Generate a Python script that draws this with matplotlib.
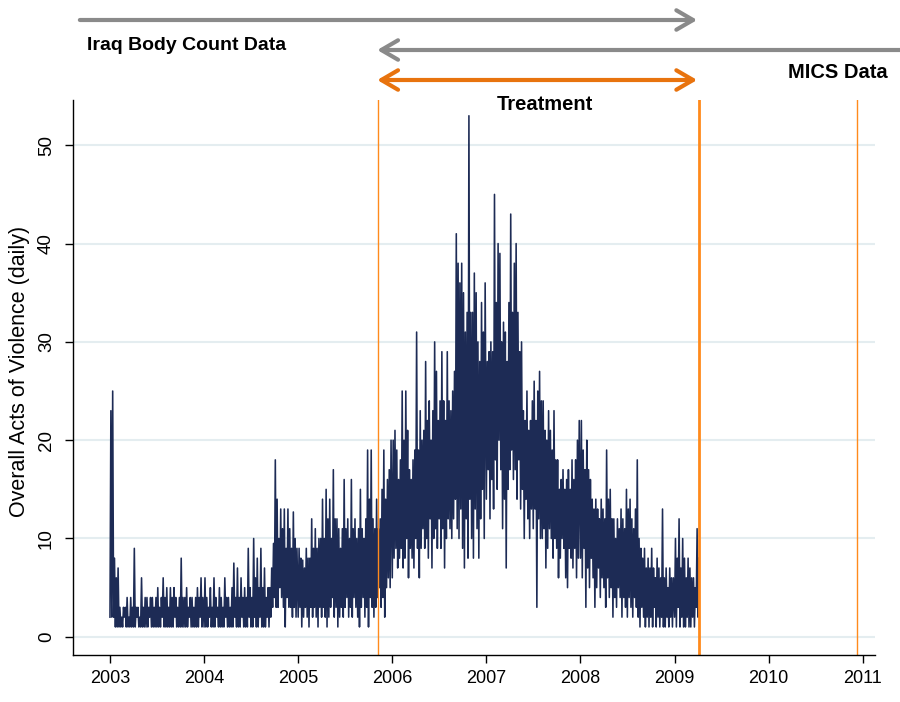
import numpy as np
import matplotlib
matplotlib.use("Agg")
from matplotlib import pyplot as plt

plt.rcParams['font.family'] = ['Liberation Sans', 'DejaVu Sans']

# weekly peaks / floors of the daily count
hi_2003 = [23, 25, 8, 6, 7, 3, 2, 3, 3, 4, 2, 4, 3, 9, 3, 3, 2, 6, 3, 4, 4, 3, 4, 4, 3, 4,
           5, 3, 4, 6, 4, 5, 3, 5, 4, 5, 4, 3, 4, 8, 4, 4, 5, 3, 4, 4, 3, 4, 5, 4, 6, 4]
lo_2003 = [2, 2, 2, 1, 1, 1, 1, 1, 2, 1, 1, 1, 1, 1, 1, 2, 1, 1, 1, 1, 1, 1, 2, 1, 1, 1,
           1, 1, 1, 2, 1, 1, 1, 1, 1, 1, 2, 1, 1, 1, 1, 1, 1, 1, 2, 1, 1, 1, 1, 1, 2, 1]
hi_2004 = [6, 4, 3, 5, 3, 6, 4, 3, 5, 4, 3, 6, 4, 4, 3, 5, 7.5, 4, 7, 4, 6, 4, 5, 4, 9, 5,
           4, 10, 6, 8, 5, 9, 5, 7, 4, 5, 5, 7, 9.5, 18, 14, 10, 13, 11, 13, 9, 13, 11, 9, 12.7, 10, 9]
lo_2004 = [1, 1, 1, 2, 1, 1, 1, 2, 1, 1, 1, 1, 2, 1, 1, 1, 1, 2, 1, 1, 1, 2, 1, 1, 1, 2,
           1, 1, 2, 1, 1, 2, 1, 1, 1, 2, 1, 2, 3, 4, 3, 3, 5, 4, 3, 1, 4, 3, 3, 2, 3, 2]
hi_2005 = [9, 8, 7.8, 7, 9, 8, 8, 12, 9, 11, 9, 10, 10, 14, 10, 15, 12, 14, 10, 17, 12, 12, 11, 9, 11, 16,
           11, 12, 10, 16, 11, 12, 10, 11, 15, 11, 10, 12, 19, 14, 19, 12, 11, 14, 11, 12, 15, 19, 14, 16, 17, 20]
lo_2005 = [2, 3, 1, 2, 3, 2, 1, 3, 2, 3, 2, 1, 3, 2, 3, 2, 1, 2, 3, 4, 2, 3, 1, 2, 3, 2,
           3, 4, 2, 3, 2, 4, 3, 2, 1, 3, 4, 2, 3, 1, 4, 3, 2, 3, 4, 5, 3, 4, 2, 5, 6, 5]
hi_2006 = [20, 21, 19, 16, 18, 25, 20, 25, 21, 17, 16, 18, 19, 31, 19, 23, 20, 21, 28, 22, 24, 20, 23, 30, 27, 22,
           24, 29, 24, 22, 29, 24, 23, 25, 27, 41, 38, 36, 38, 35, 31, 33, 53, 33, 33, 37, 35, 30, 28, 34, 31, 36]
lo_2006 = [6, 8, 9, 7, 8, 9, 7, 8, 10, 6, 9, 8, 7, 10, 9, 6, 9, 11, 9, 10, 8, 12, 7, 10, 11, 9,
           12, 9, 11, 7, 10, 12, 11, 10, 12, 14, 11, 10, 13, 9, 7, 12, 8, 14, 10, 8, 13, 11, 8, 12, 15, 10]
hi_2007 = [28, 29, 30, 29, 45, 34, 40, 39, 30, 32, 31, 28, 34, 43, 33, 38, 40, 33, 29, 30, 23, 22, 25, 21, 22, 24,
           26, 22, 25, 27, 24, 24, 21, 20, 23, 21, 19, 23, 18, 18, 15, 16, 17, 15, 16, 17, 15, 18, 16, 18, 20, 22]
lo_2007 = [14, 17, 12, 16, 13, 18, 15, 20, 17, 11, 14, 7, 15, 17, 19, 16, 17, 14, 18, 13, 15, 10, 14, 12, 10, 13,
           11, 13, 3, 12, 10, 10, 11, 7, 9, 11, 10, 8, 10, 9, 6, 8, 10, 9, 6, 5, 9, 8, 7, 9, 6, 8]
hi_2008 = [22, 19, 17, 20, 17, 16, 14, 13, 14, 13, 12, 14, 13, 12, 19, 14, 15, 12, 12, 10, 12, 11, 13, 12, 11, 15,
           13, 14, 12, 11, 13, 18, 10, 9, 8, 9, 7, 8, 7, 9, 7, 6, 8, 7, 6, 13, 6, 7, 5, 7, 6, 6]
lo_2008 = [8, 6, 9, 3, 7, 5, 8, 6, 3, 5, 7, 4, 6, 5, 3, 6, 4, 5, 2, 4, 3, 5, 4, 2, 4, 3,
           2, 4, 3, 2, 4, 3, 2, 1, 3, 2, 1, 2, 1, 2, 1, 3, 1, 2, 1, 2, 1, 1, 2, 1, 2, 1]
hi_2009 = [10, 8, 12, 7, 10, 8, 6, 8, 7, 6, 6, 5, 11, 8]
lo_2009 = [2, 1, 3, 1, 2, 1, 1, 2, 1, 1, 2, 1, 3, 2]

years = [2003, 2004, 2005, 2006, 2007, 2008, 2009]
highs = [hi_2003, hi_2004, hi_2005, hi_2006, hi_2007, hi_2008, hi_2009]
lows = [lo_2003, lo_2004, lo_2005, lo_2006, lo_2007, lo_2008, lo_2009]

treat_start = 2005.85
treat_end = 2009.26
mics_date = 2010.94
yticks = [0, 10, 20, 30, 40, 50]
xticks = [2003, 2004, 2005, 2006, 2007, 2008, 2009, 2010, 2011]

# weekly floor then weekly peak, alternating
t, v = [], []
for yr, hi, lo in zip(years, highs, lows):
    for k in range(len(hi)):
        t += [yr + 7 * k / 365.25, yr + (7 * k + 3.5) / 365.25]
        v += [lo[k], hi[k]]

fig = plt.figure(figsize=(9, 7.02), dpi=100)
ax = fig.add_axes([73/900, 47/702, 802/900, 555/702])

ax.plot(t, v, color='#1d2b55', lw=1.15)
orange = '#ff8a1c'
ax.axvline(treat_start, color=orange, lw=1.0)
ax.axvline(treat_end, color=orange, lw=2.0)
ax.axvline(mics_date, color=orange, lw=1.0)

ax.set_xlim(2002.607, 2011.13)
ax.set_ylim(-1.85, 54.6)
ax.set_yticks(yticks)
ax.set_yticklabels([str(y) for y in yticks], rotation=90, va='center')
ax.set_xticks(xticks)
ax.set_xticklabels([str(x) for x in xticks])
ax.tick_params(axis='y', length=6, width=1, pad=7, labelsize=13.5, colors='black')
ax.tick_params(axis='x', length=6, width=1, pad=5, labelsize=13, colors='black')
ax.yaxis.grid(True, color='#e4edf0', lw=1.5)
ax.set_axisbelow(True)
ax.spines['top'].set_visible(False)
ax.spines['right'].set_visible(False)
ax.spines['left'].set_linewidth(1.0)
ax.spines['bottom'].set_linewidth(1.0)

fig.text(20/900, 1 - 371/702, 'Overall Acts of Violence (daily)', rotation=90,
         ha='center', va='center', fontsize=15.5)

# arrows above the plot
cc = ('data', 'figure fraction')
gray = '#8a8a8a'
ax.annotate('', xy=(2009.24, 1 - 20/702), xytext=(2002.68, 1 - 20/702),
            xycoords=cc, textcoords=cc, annotation_clip=False,
            arrowprops=dict(arrowstyle='->,head_length=0.6,head_width=0.35', color=gray,
                            lw=3, mutation_scale=20, shrinkA=0, shrinkB=0))
ax.annotate('', xy=(2005.84, 1 - 50/702), xytext=(2011.45, 1 - 50/702),
            xycoords=cc, textcoords=cc, annotation_clip=False,
            arrowprops=dict(arrowstyle='->,head_length=0.6,head_width=0.35', color=gray,
                            lw=3, mutation_scale=20, shrinkA=0, shrinkB=0))
ax.annotate('', xy=(2009.24, 1 - 80/702), xytext=(2005.84, 1 - 80/702),
            xycoords=cc, textcoords=cc, annotation_clip=False,
            arrowprops=dict(arrowstyle='<->,head_length=0.6,head_width=0.35', color='#e8730e',
                            lw=3, mutation_scale=20, shrinkA=0, shrinkB=0))

fig.text(87/900, 1 - 46/702, 'Iraq Body Count Data', ha='left', va='center',
         fontsize=14, fontweight='bold')
fig.text(838/900, 1 - 73/702, 'MICS Data', ha='center', va='center',
         fontsize=14.5, fontweight='bold')
fig.text(545/900, 1 - 104/702, 'Treatment', ha='center', va='center',
         fontsize=14.5, fontweight='bold')

fig.savefig('out.png', dpi=100)
